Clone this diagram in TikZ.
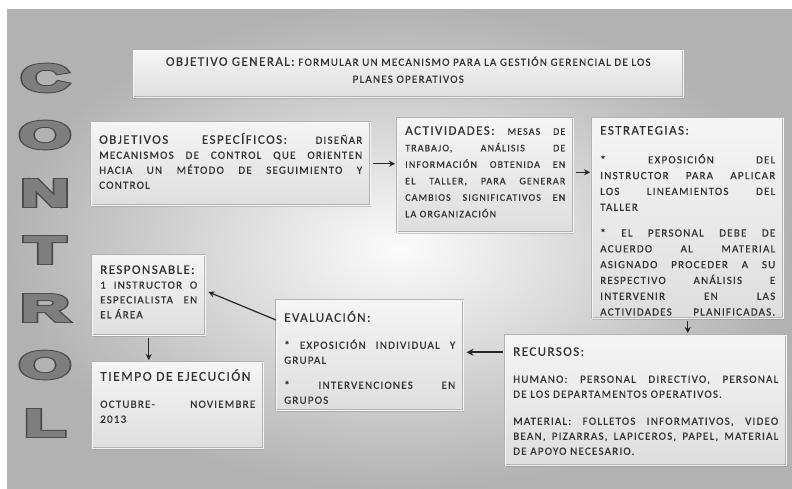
\documentclass[tikz,border=0pt]{standalone}
\usepackage{fontspec}
\setmainfont{Carlito}[LetterSpace=11,FakeBold=0.6]
\newfontfamily\ltrdark{Liberation Sans Bold}[FakeBold=10]
\newfontfamily\ltrlight{Liberation Sans Bold}[FakeBold=5]
\usetikzlibrary{shadows,arrows.meta,calc}
\definecolor{txt}{HTML}{333333}
\definecolor{arrc}{HTML}{262626}
\definecolor{ltrline}{HTML}{4A4A4A}
\definecolor{ltrfill}{HTML}{7E7E7E}
\newcommand\jl[1]{\makebox[\linewidth][s]{#1}\par}
\newcommand\nl[1]{#1\par}
\newcommand\hd[1]{{\fontsize{13}{15}\selectfont #1}}
\newcommand\bxt[6][11]{\parbox[c][#2][t]{#3}{\fontsize{#1}{#4}\selectfont\parindent=0pt\parskip=0pt\vspace*{#5}\mbox{}\par #6}}
\newcommand\outl[1]{\scalebox{1.75}[1]{\fontsize{38}{38}\selectfont\rlap{\ltrdark\color{ltrline}#1}{\ltrlight\color{ltrfill}#1}}}
\begin{document}
\begin{tikzpicture}[x=1pt,y=-1pt,
  box/.style={anchor=north west, inner sep=0pt, draw=gray!60, line width=0.5pt,
    double=white!92!gray, double distance=1.2pt, top color=gray!8, bottom color=gray!26,
    drop shadow={shadow xshift=1.2pt, shadow yshift=-1.6pt, opacity=0.35}, text=txt},
  ltr/.style={inner sep=0pt},
  arr/.style={-{Stealth[length=6pt,width=6pt]}, line width=1.2pt, draw=arrc},
  arrb/.style={-{Stealth[length=7pt,width=7pt]}, line width=2pt, draw=arrc}]
\useasboundingbox (0,0) rectangle (792,488);
\fill[white] (0,0) rectangle (792,488);
\shade[inner color=gray!3, outer color=gray!60] (7,9) rectangle (792,488);

% CONTROL letters
\node[ltr] (lc)  at (45,78)  {\outl{C}};
\node[ltr] (lo1) at (45,135) {\outl{O}};
\node[ltr] (ln)  at (45,193) {\outl{N}};
\node[ltr] (lt)  at (45,250) {\outl{T}};
\node[ltr] (lr)  at (45,308) {\outl{R}};
\node[ltr] (lo2) at (45,365) {\outl{O}};
\node[ltr] (ll)  at (45,423) {\outl{L}};

% boxes
\node[box] (og) at (133,50) {\bxt{47pt}{550pt}{17pt}{-1.5pt}{\centering
  \nl{\hd{OBJETIVO GENERAL:} FORMULAR UN MECANISMO PARA LA GESTIÓN GERENCIAL DE LOS}
  \nl{PLANES OPERATIVOS}}};

\node[box, inner xsep=8pt] (oe) at (91,122) {\bxt{83pt}{263pt}{15pt}{6.5pt}{%
  \jl{\hd{OBJETIVOS ESPECÍFICOS:} DISEÑAR}
  \jl{MECANISMOS DE CONTROL QUE ORIENTEN}
  \jl{HACIA UN MÉTODO DE SEGUIMIENTO Y}
  \nl{CONTROL}}};

\node[box, inner xsep=8pt] (act) at (397,118) {\bxt[10]{114pt}{160pt}{16.5pt}{0pt}{%
  \jl{\hd{ACTIVIDADES:} MESAS DE}
  \jl{TRABAJO, ANÁLISIS DE}
  \jl{INFORMACIÓN OBTENIDA EN}
  \jl{EL TALLER, PARA GENERAR}
  \jl{CAMBIOS SIGNIFICATIVOS EN}
  \nl{LA ORGANIZACIÓN}}};

\node[box, inner xsep=8pt] (est) at (592,118) {\bxt{200pt}{175pt}{15.8pt}{0.5pt}{%
  \nl{\hd{ESTRATEGIAS:}}
  \vspace{13pt}
  \jl{* EXPOSICIÓN DEL}
  \jl{INSTRUCTOR PARA APLICAR}
  \jl{LOS LINEAMIENTOS DEL}
  \nl{TALLER}
  \vspace{10pt}
  \jl{* EL PERSONAL DEBE DE}
  \jl{ACUERDO AL MATERIAL}
  \jl{ASIGNADO PROCEDER A SU}
  \jl{RESPECTIVO ANÁLISIS E}
  \jl{INTERVENIR EN LAS}
  \jl{ACTIVIDADES PLANIFICADAS.}}};

\node[box, inner xsep=8pt] (resp) at (92,255) {\bxt{80pt}{97pt}{14.8pt}{3.8pt}{%
  \nl{\hd{RESPONSABLE:}}
  \jl{1 INSTRUCTOR O}
  \jl{ESPECIALISTA EN}
  \nl{EL ÁREA}}};

\node[box, inner xsep=8pt] (tiem) at (92,362) {\bxt{86pt}{155pt}{15pt}{3.5pt}{%
  \nl{{\fontsize{13.5}{15}\selectfont TIEMPO DE EJECUCIÓN}}
  \vspace{12pt}
  \jl{OCTUBRE- NOVIEMBRE}
  \nl{2013}}};

\node[box, inner xsep=8pt] (ev) at (276,300) {\bxt{110pt}{171pt}{15pt}{6.5pt}{%
  \nl{\hd{EVALUACIÓN:}}
  \vspace{12pt}
  \jl{* EXPOSICIÓN INDIVIDUAL Y}
  \nl{GRUPAL}
  \vspace{10pt}
  \jl{* INTERVENCIONES EN}
  \nl{GRUPOS}}};

\node[box, inner xsep=8pt] (rec) at (505,335) {\bxt{130pt}{265pt}{15pt}{5.5pt}{%
  \nl{\hd{RECURSOS:}}
  \vspace{12pt}
  \jl{HUMANO: PERSONAL DIRECTIVO, PERSONAL}
  \nl{DE LOS DEPARTAMENTOS OPERATIVOS.}
  \vspace{12pt}
  \jl{MATERIAL: FOLLETOS INFORMATIVOS, VIDEO}
  \jl{BEAN, PIZARRAS, LAPICEROS, PAPEL, MATERIAL}
  \nl{DE APOYO NECESARIO.}}};

% connectors
\draw[arr] ([xshift=2pt]oe.east) -- ([xshift=-2pt]oe.east -| act.west);
\draw[arr] ([shift={(2pt,3pt)}]act.east) -- ([shift={(-2pt,3pt)}]act.east -| est.west);
\draw[arr] ([yshift=-2pt]est.south) -- ([yshift=2pt]est.south |- rec.north);
\coordinate (r1) at ([shift={(-2pt,48pt)}]rec.west);
\draw[arrb, shorten >=3pt] (r1) -- (r1 -| ev.east);
\draw[arr] ([yshift=-20pt]ev.north west) -- ([shift={(3pt,-37pt)}]resp.north east);
\draw[arr] ([yshift=-2pt]resp.south) -- ([yshift=2pt]resp.south |- tiem.north);
\end{tikzpicture}
\end{document}
